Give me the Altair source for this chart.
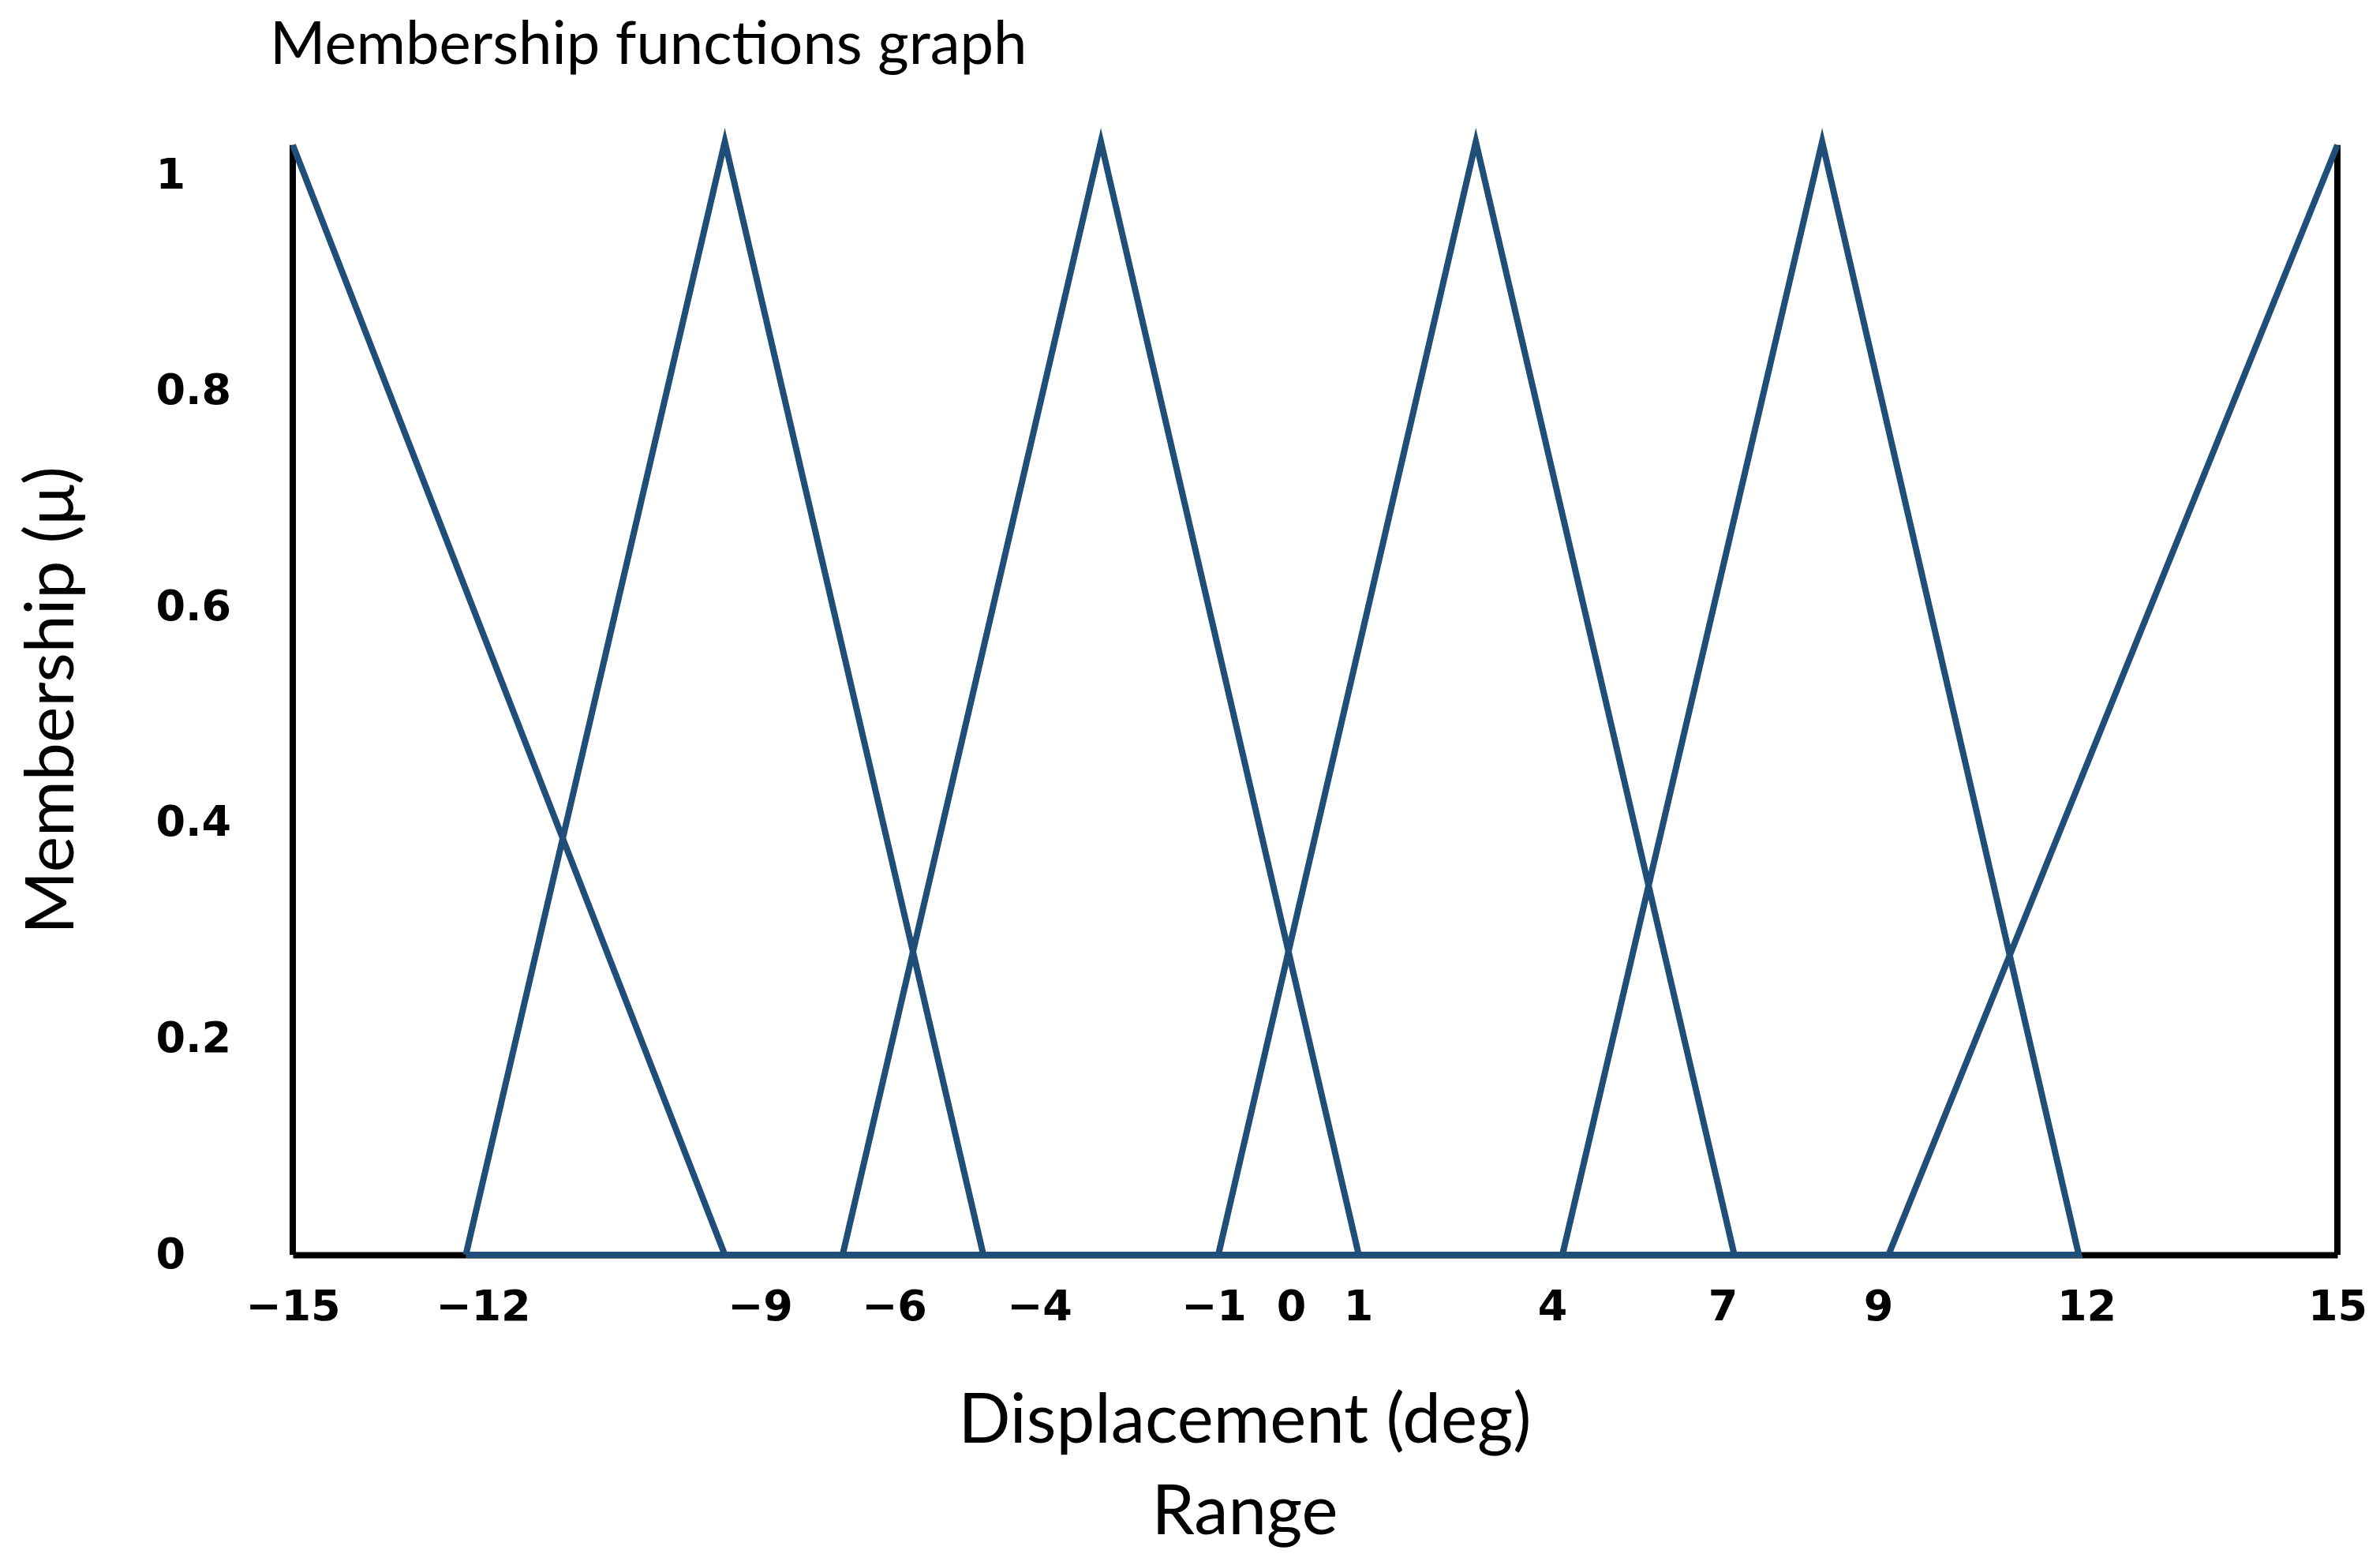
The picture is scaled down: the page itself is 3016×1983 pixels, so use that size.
import altair as alt
import pandas as pd

# Membership functions (x in the axis' label units)
mf_names = ["MF1", "MF2", "MF3", "MF4", "MF5", "MF6"]
mf_left = [-15.0, -12.27, -7.15, -0.94, 4.18, 9.15]
mf_peak = [-15.0, -9.38, -2.94, 2.82, 8.28, 15.0]
mf_right = [-9.38, -4.77, 1.01, 7.15, 11.89, 15.0]
mf_height = [1.028, 1.031, 1.031, 1.031, 1.031, 1.028]
mf_closed = [False, True, True, True, True, False]

x_ticks = [-15, -12, -9, -6, -4, -1, 0, 1, 4, 7, 9, 12, 15]
y_ticks = [0, 0.2, 0.4, 0.6, 0.8, 1]

rows = []
for n, l, p, r, h, c in zip(mf_names, mf_left, mf_peak, mf_right, mf_height, mf_closed):
    if c:
        pts = [(l, 0.0), (p, h), (r, 0.0), (l, 0.0)]
    elif p == l:
        pts = [(p, h), (r, 0.0)]
    else:
        pts = [(l, 0.0), (p, h)]
    for i, (x, y) in enumerate(pts):
        rows.append({"mf": n, "i": i, "x": x, "mu": y})
df = pd.DataFrame(rows)

frame = pd.DataFrame({
    "x": [x_ticks[0], x_ticks[-1]],
    "y0": [0.0, 0.0],
    "y1": [mf_height[0], mf_height[-1]],
})

W, H = 2591, 1425
tick_px = [0, 241, 592, 762, 946, 1167, 1265, 1350, 1596, 1812, 2009, 2273, W]

xscale = alt.Scale(domain=x_ticks, range=tick_px, nice=False, zero=False)
yscale = alt.Scale(domain=[0, 1.0417], nice=False, zero=True)

x_axis = alt.Axis(
    values=x_ticks, format="d", grid=False, ticks=False, tickSize=0,
    domain=True, domainColor="black", domainWidth=8, zindex=0,
    labelFont="DejaVu Sans", labelFontWeight="bold", labelFontSize=54,
    labelColor="black", labelPadding=39, labelFlush=False, labelOverlap=False,
    title=["Displacement (deg)", "Range"], titleFont="Lato", titleFontWeight="normal",
    titleFontSize=87, titleColor="black", titleX=1206, titleY=237,
    titleAlign="center", titleBaseline="alphabetic", titleLineHeight=116,
)
y_axis = alt.Axis(
    values=y_ticks, format="~g", grid=False, ticks=False, tickSize=0, domain=False,
    labelFont="DejaVu Sans", labelFontWeight="bold", labelFontSize=54,
    labelColor="black", labelAlign="left", labelPadding=174, labelFlush=False,
    labelOverlap=False, zindex=0,
    title="Membership (μ)", titleFont="Lato", titleFontWeight="normal",
    titleFontSize=86, titleColor="black", titleX=-279, titleY=722,
    titleAlign="center", titleBaseline="alphabetic", titleAngle=-90,
)

lines = alt.Chart(df).mark_line(
    color="#1f4e79", strokeWidth=8, strokeJoin="miter", strokeMiterLimit=10
).encode(
    x=alt.X("x:Q", scale=xscale, axis=x_axis),
    y=alt.Y("mu:Q", scale=yscale, axis=y_axis),
    detail="mf:N",
    order="i:Q",
)

rules = alt.Chart(frame).mark_rule(color="black", strokeWidth=8).encode(
    x=alt.X("x:Q", scale=xscale),
    y=alt.Y("y0:Q", scale=yscale),
    y2="y1:Q",
)

chart = alt.layer(rules, lines).properties(
    width=W, height=H,
    background="white",
    title=alt.Title(
        "Membership functions graph", anchor="start", frame="group", dx=-29,
        offset=-17, baseline="alphabetic", font="Lato", fontSize=76,
        fontWeight="normal", color="black",
    ),
    autosize=alt.AutoSizeParams(type="none"),
    padding={"left": 363, "top": 157, "right": 46, "bottom": 385},
).configure_view(stroke="transparent", strokeWidth=0)

chart.save("out.html", embed_options={"renderer": "svg", "actions": False})
